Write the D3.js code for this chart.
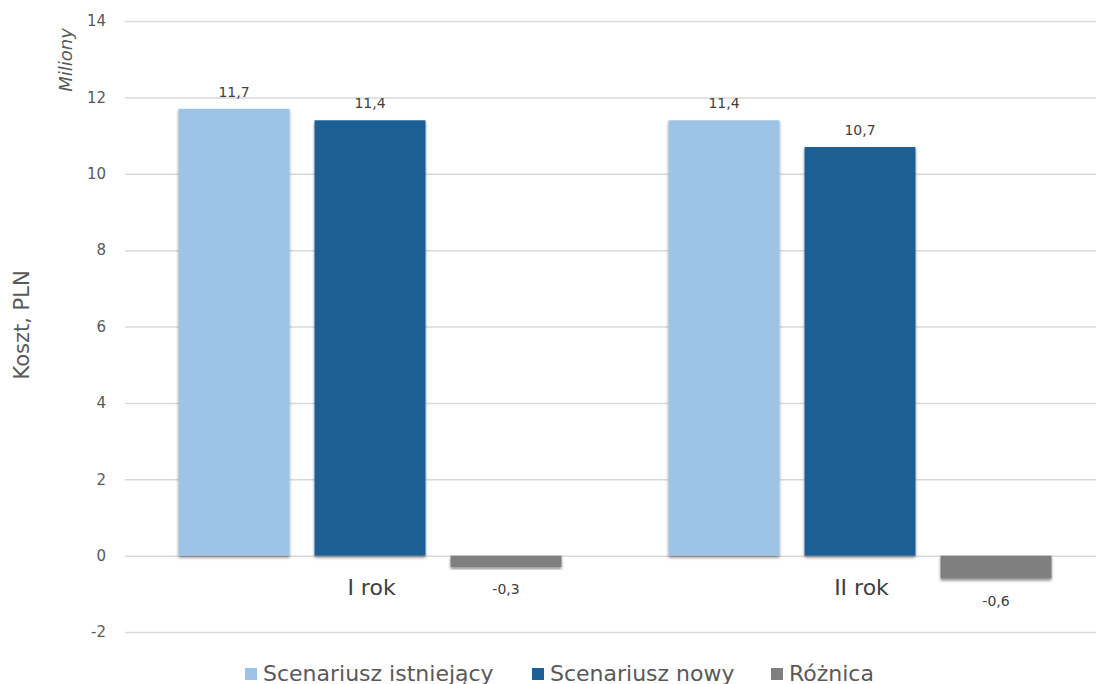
<!DOCTYPE html>
<html>
<head>
<meta charset="utf-8">
<script src="https://cdn.jsdelivr.net/npm/d3@7"></script>
<style>
  html, body { margin: 0; padding: 0; background: #fff; }
  svg { display: block; font-family: "DejaVu Sans", sans-serif; }
</style>
</head>
<body>
<svg id="chart" width="1096" height="684"></svg>
<script>
const categories = ["I rok", "II rok"];
const seriesNames = ["Scenariusz istniejący", "Scenariusz nowy", "Różnica"];
const seriesExisting = [11.7, 11.4];
const seriesNew = [11.4, 10.7];
const seriesDiff = [-0.3, -0.6];
const yTicks = [-2, 0, 2, 4, 6, 8, 10, 12, 14];
const colors = ["#9DC3E6", "#1F5F94", "#7F7F7F"];

const seriesValues = [seriesExisting, seriesNew, seriesDiff];
const fmt = v => d3.format(".1f")(v).replace(".", ",").replace("−", "-");

const svg = d3.select("#chart");
const plot = { left: 125, right: 1105, top: 21, bottom: 632 };

const defs = svg.append("defs");
const f = defs.append("filter").attr("id", "shadow")
  .attr("x", "-10%").attr("y", "-10%").attr("width", "120%").attr("height", "130%");
f.append("feDropShadow").attr("dx", 0).attr("dy", 2).attr("stdDeviation", 1.5)
  .attr("flood-color", "#000").attr("flood-opacity", 0.45);

const y = d3.scaleLinear().domain([-2, 14]).range([plot.bottom, plot.top]);
const x0 = d3.scaleBand().domain(categories).range([plot.left, plot.right]);
const x1 = d3.scaleBand().domain(seriesNames)
  .range([53.5, x0.bandwidth() - 53.5]).paddingInner(0.184);

// gridlines
const grid = svg.append("g").attr("transform", `translate(${plot.left},0)`)
  .call(d3.axisLeft(y).tickValues(yTicks).tickSize(-(plot.right - plot.left)).tickFormat(""));
grid.select(".domain").remove();
grid.selectAll("line").attr("stroke", "#d9d9d9").attr("stroke-width", 1.5);

// y axis labels
const yAxis = svg.append("g").attr("transform", `translate(106,0)`)
  .call(d3.axisLeft(y).tickValues(yTicks).tickSize(0).tickPadding(0).tickFormat(d => d));
yAxis.select(".domain").remove();
yAxis.selectAll("text").attr("fill", "#595959").attr("font-size", 15)
  .attr("font-family", "DejaVu Sans, sans-serif");

// bars
const groups = svg.append("g").selectAll("g").data(categories).join("g")
  .attr("transform", d => `translate(${x0(d)},0)`);

const rows = (c, ci) => seriesNames.map((s, si) => ({ s, si, v: seriesValues[si][ci] }));

groups.selectAll("rect").data((c, ci) => rows(c, ci)).join("rect")
  .attr("x", d => x1(d.s))
  .attr("width", x1.bandwidth())
  .attr("y", d => y(Math.max(0, d.v)))
  .attr("height", d => Math.abs(y(d.v) - y(0)))
  .attr("fill", d => colors[d.si])
  .attr("filter", "url(#shadow)");

groups.selectAll("text.val").data((c, ci) => rows(c, ci)).join("text")
  .attr("class", "val")
  .attr("x", d => x1(d.s) + x1.bandwidth() / 2)
  .attr("y", d => d.v >= 0 ? y(d.v) - 12 : y(d.v) + 27)
  .attr("text-anchor", "middle")
  .attr("font-size", 14)
  .attr("fill", "#404040")
  .text(d => fmt(d.v));

// category labels
svg.append("g").selectAll("text").data(categories).join("text")
  .attr("x", d => x0(d) + x0.bandwidth() / 2 + 1.5)
  .attr("y", 595)
  .attr("text-anchor", "middle")
  .attr("font-size", 22)
  .attr("fill", "#404040")
  .text(d => d);

// axis titles
svg.append("text")
  .attr("transform", "translate(29,325) rotate(-90)")
  .attr("text-anchor", "middle")
  .attr("font-size", 21)
  .attr("fill", "#595959")
  .text("Koszt, PLN");

svg.append("text")
  .attr("transform", "translate(72,60) rotate(-90)")
  .attr("text-anchor", "middle")
  .attr("font-size", 18)
  .attr("font-style", "italic")
  .attr("fill", "#595959")
  .text("Miliony");

// legend
const legendX = [245, 532, 771];
const leg = svg.append("g").selectAll("g").data(seriesNames).join("g")
  .attr("transform", (d, i) => `translate(${legendX[i]},0)`);
leg.append("rect").attr("x", 0).attr("y", 668).attr("width", 12).attr("height", 12)
  .attr("fill", (d, i) => colors[i]);
leg.append("text").attr("x", 18).attr("y", 681)
  .attr("font-size", 22).attr("fill", "#595959").text(d => d);
</script>
</body>
</html>
